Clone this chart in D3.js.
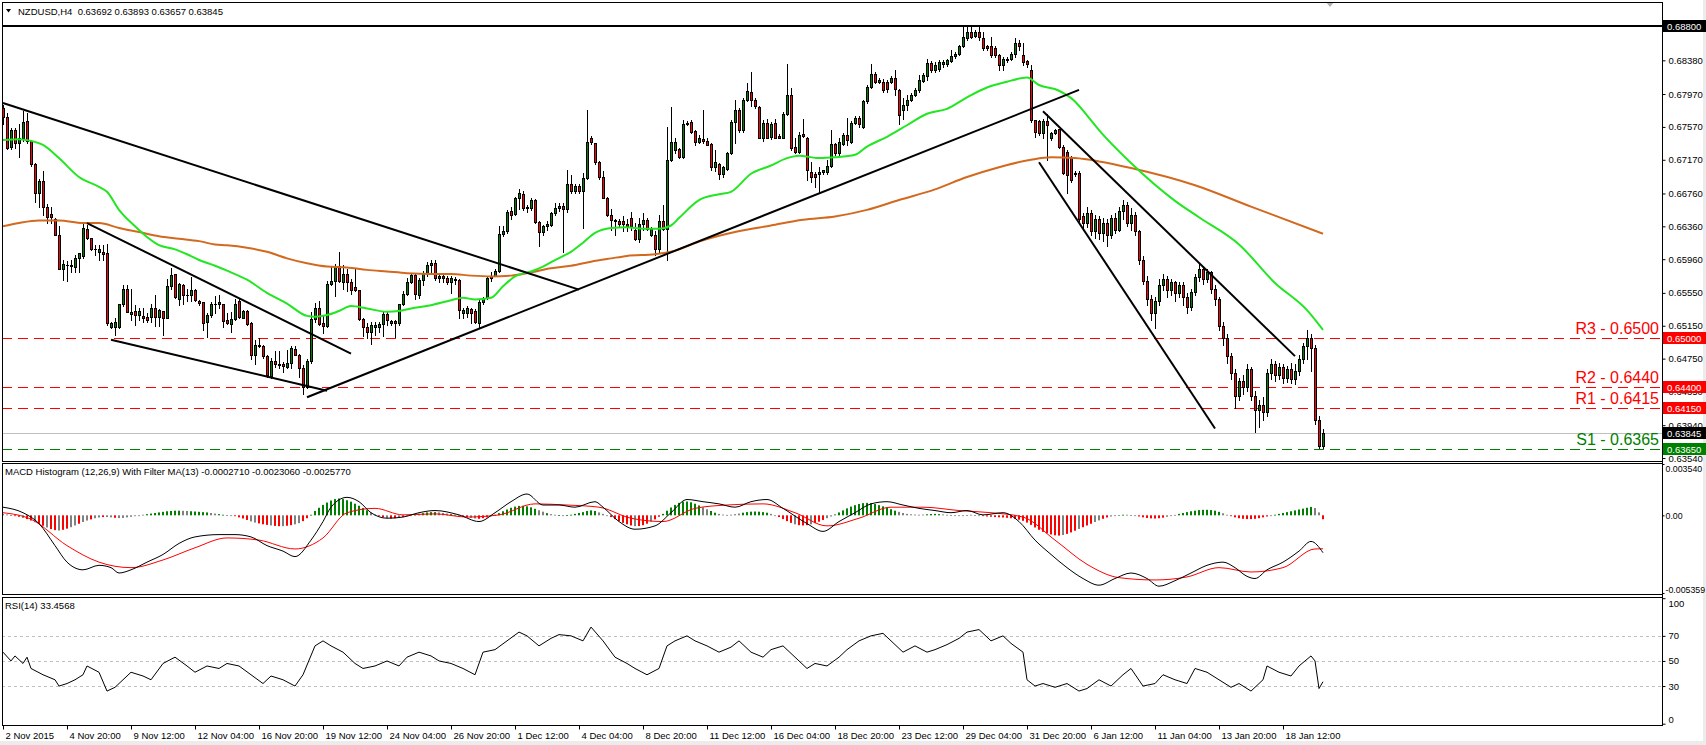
<!DOCTYPE html>
<html><head><meta charset="utf-8">
<script src="https://cdn.jsdelivr.net/npm/d3@7"></script>
<style>
html,body{margin:0;padding:0;background:#fff;overflow:hidden;}
svg{display:block;font-family:"Liberation Sans",Arial,sans-serif;}
</style></head><body>
<svg id="c" width="1706" height="745"></svg>
<script>
// ---------------- DATA ----------------
const symbolTitle = "NZDUSD,H4  0.63692 0.63893 0.63657 0.63845";
const macdTitle = "MACD Histogram (12,26,9) With Filter MA(13) -0.0002710 -0.0023060 -0.0025770";
const rsiTitle = "RSI(14) 33.4568";

const timeLabels = ["2 Nov 2015","4 Nov 20:00","9 Nov 12:00","12 Nov 04:00","16 Nov 20:00","19 Nov 12:00","24 Nov 04:00","26 Nov 20:00","1 Dec 12:00","4 Dec 04:00","8 Dec 20:00","11 Dec 12:00","16 Dec 04:00","18 Dec 20:00","23 Dec 12:00","29 Dec 04:00","31 Dec 20:00","6 Jan 12:00","11 Jan 04:00","13 Jan 20:00","18 Jan 12:00"];
const timeTickBars = [0,16,32,48,64,80,96,112,128,144,160,176,192,208,224,240,256,272,288,304,320];

const priceTicks = [0.68800,0.68380,0.67970,0.67570,0.67170,0.66760,0.66360,0.65960,0.65550,0.65150,0.64750,0.64350,0.63940,0.63540];

// H4 candles: [open, high, low, close]
const ohlc = [
[0.6780,0.6784,0.6760,0.6769],[0.6769,0.6774,0.6730,0.6731],[0.6732,0.6756,0.6730,0.6753],[0.6753,0.6756,0.6731,0.6738],[0.6738,0.6760,0.6720,0.6744],
[0.6744,0.6776,0.6740,0.6763],[0.6764,0.6774,0.6738,0.6740],[0.6740,0.6741,0.6709,0.6712],[0.6712,0.6713,0.6666,0.6677],[0.6677,0.6694,0.6660,0.6691],
[0.6691,0.6703,0.6650,0.6660],[0.6660,0.6663,0.6640,0.6647],[0.6651,0.6660,0.6640,0.6647],[0.6645,0.6646,0.6625,0.6625],[0.6625,0.6636,0.6584,0.6584],
[0.6584,0.6595,0.6571,0.6590],[0.6589,0.6594,0.6570,0.6589],[0.6588,0.6595,0.6580,0.6589],[0.6586,0.6601,0.6580,0.6598],[0.6598,0.6604,0.6581,0.6604],
[0.6600,0.6639,0.6598,0.6634],[0.6633,0.6638,0.6620,0.6622],[0.6622,0.6622,0.6607,0.6608],[0.6609,0.6613,0.6601,0.6608],[0.6605,0.6613,0.6595,0.6608],
[0.6605,0.6613,0.6595,0.6602],[0.6603,0.6614,0.6516,0.6518],[0.6514,0.6520,0.6512,0.6518],[0.6514,0.6524,0.6504,0.6520],[0.6514,0.6542,0.6512,0.6541],
[0.6541,0.6564,0.6539,0.6560],[0.6560,0.6565,0.6532,0.6532],[0.6529,0.6560,0.6522,0.6532],[0.6533,0.6540,0.6516,0.6528],[0.6528,0.6536,0.6522,0.6533],
[0.6527,0.6536,0.6520,0.6524],[0.6526,0.6531,0.6520,0.6522],[0.6526,0.6542,0.6520,0.6536],[0.6536,0.6553,0.6515,0.6526],[0.6526,0.6535,0.6515,0.6534],
[0.6533,0.6533,0.6504,0.6525],[0.6525,0.6572,0.6524,0.6563],[0.6563,0.6585,0.6560,0.6577],[0.6578,0.6578,0.6549,0.6550],[0.6548,0.6567,0.6540,0.6566],
[0.6565,0.6566,0.6542,0.6552],[0.6553,0.6560,0.6545,0.6552],[0.6552,0.6574,0.6545,0.6559],[0.6559,0.6560,0.6545,0.6546],[0.6545,0.6546,0.6540,0.6543],
[0.6544,0.6544,0.6510,0.6518],[0.6519,0.6530,0.6501,0.6528],[0.6528,0.6544,0.6526,0.6541],[0.6541,0.6551,0.6530,0.6542],[0.6542,0.6553,0.6537,0.6544],
[0.6542,0.6542,0.6514,0.6521],[0.6522,0.6530,0.6517,0.6518],[0.6517,0.6532,0.6508,0.6523],[0.6523,0.6547,0.6522,0.6541],[0.6545,0.6549,0.6525,0.6526],
[0.6525,0.6534,0.6524,0.6533],[0.6533,0.6534,0.6516,0.6517],[0.6518,0.6519,0.6474,0.6480],[0.6480,0.6498,0.6468,0.6492],[0.6492,0.6500,0.6489,0.6490],
[0.6490,0.6492,0.6476,0.6478],[0.6478,0.6480,0.6453,0.6455],[0.6454,0.6476,0.6452,0.6472],[0.6472,0.6484,0.6465,0.6469],[0.6469,0.6484,0.6463,0.6467],
[0.6469,0.6471,0.6459,0.6466],[0.6465,0.6485,0.6463,0.6470],[0.6470,0.6490,0.6463,0.6488],[0.6487,0.6490,0.6479,0.6480],[0.6480,0.6481,0.6453,0.6463],
[0.6463,0.6467,0.6432,0.6441],[0.6441,0.6474,0.6439,0.6472],[0.6472,0.6532,0.6470,0.6523],[0.6523,0.6543,0.6520,0.6536],[0.6536,0.6545,0.6516,0.6517],
[0.6518,0.6528,0.6506,0.6515],[0.6515,0.6569,0.6514,0.6566],[0.6566,0.6587,0.6565,0.6570],[0.6569,0.6590,0.6551,0.6588],[0.6588,0.6605,0.6568,0.6570],
[0.6568,0.6589,0.6560,0.6578],[0.6578,0.6584,0.6557,0.6568],[0.6568,0.6572,0.6554,0.6558],[0.6562,0.6585,0.6557,0.6558],[0.6559,0.6559,0.6522,0.6523],
[0.6523,0.6525,0.6502,0.6514],[0.6514,0.6518,0.6500,0.6507],[0.6508,0.6520,0.6493,0.6516],[0.6513,0.6520,0.6504,0.6516],[0.6514,0.6520,0.6508,0.6517],
[0.6517,0.6532,0.6502,0.6529],[0.6529,0.6532,0.6516,0.6522],[0.6518,0.6522,0.6516,0.6521],[0.6521,0.6522,0.6501,0.6518],[0.6518,0.6542,0.6516,0.6541],
[0.6541,0.6557,0.6540,0.6554],[0.6554,0.6573,0.6553,0.6568],[0.6568,0.6579,0.6567,0.6577],[0.6577,0.6578,0.6548,0.6554],[0.6553,0.6573,0.6549,0.6571],
[0.6571,0.6582,0.6565,0.6579],[0.6579,0.6593,0.6575,0.6589],[0.6589,0.6595,0.6580,0.6591],[0.6591,0.6595,0.6571,0.6573],[0.6573,0.6578,0.6568,0.6575],
[0.6575,0.6578,0.6568,0.6573],[0.6573,0.6575,0.6566,0.6568],[0.6568,0.6575,0.6555,0.6573],[0.6572,0.6574,0.6566,0.6571],[0.6571,0.6572,0.6524,0.6534],
[0.6531,0.6537,0.6525,0.6534],[0.6531,0.6539,0.6526,0.6536],[0.6535,0.6537,0.6518,0.6530],[0.6533,0.6535,0.6518,0.6519],[0.6518,0.6546,0.6514,0.6544],
[0.6544,0.6550,0.6542,0.6549],[0.6549,0.6574,0.6548,0.6573],[0.6573,0.6580,0.6570,0.6576],[0.6576,0.6584,0.6575,0.6582],[0.6582,0.6636,0.6581,0.6627],
[0.6627,0.6636,0.6624,0.6630],[0.6630,0.6656,0.6628,0.6654],[0.6655,0.6660,0.6645,0.6650],[0.6651,0.6672,0.6650,0.6670],[0.6670,0.6681,0.6657,0.6676],
[0.6675,0.6679,0.6656,0.6658],[0.6659,0.6662,0.6654,0.6658],[0.6658,0.6670,0.6656,0.6668],[0.6668,0.6669,0.6640,0.6641],[0.6641,0.6642,0.6612,0.6629],
[0.6629,0.6638,0.6625,0.6636],[0.6636,0.6643,0.6632,0.6639],[0.6638,0.6654,0.6636,0.6652],[0.6652,0.6664,0.6650,0.6658],[0.6658,0.6664,0.6655,0.6661],
[0.6661,0.6664,0.6605,0.6657],[0.6657,0.6705,0.6654,0.6687],[0.6687,0.6699,0.6677,0.6679],[0.6679,0.6688,0.6676,0.6685],[0.6685,0.6688,0.6676,0.6679],
[0.6679,0.6701,0.6634,0.6695],[0.6695,0.6778,0.6693,0.6739],[0.6743,0.6746,0.6736,0.6739],[0.6737,0.6738,0.6712,0.6714],[0.6714,0.6716,0.6694,0.6696],
[0.6696,0.6703,0.6670,0.6670],[0.6670,0.6672,0.6648,0.6650],[0.6650,0.6657,0.6632,0.6644],[0.6644,0.6645,0.6626,0.6642],[0.6643,0.6645,0.6637,0.6639],
[0.6642,0.6649,0.6630,0.6639],[0.6639,0.6645,0.6630,0.6637],[0.6646,0.6654,0.6631,0.6636],[0.6631,0.6640,0.6619,0.6621],[0.6620,0.6646,0.6617,0.6639],
[0.6639,0.6652,0.6631,0.6644],[0.6644,0.6646,0.6632,0.6633],[0.6626,0.6635,0.6624,0.6633],[0.6626,0.6630,0.6601,0.6608],[0.6608,0.6650,0.6605,0.6642],
[0.6642,0.6662,0.6631,0.6633],[0.6633,0.6757,0.6595,0.6717],[0.6717,0.6781,0.6715,0.6739],[0.6729,0.6743,0.6725,0.6739],[0.6730,0.6731,0.6719,0.6720],
[0.6720,0.6765,0.6719,0.6761],[0.6761,0.6764,0.6759,0.6762],[0.6763,0.6765,0.6749,0.6751],[0.6752,0.6753,0.6735,0.6739],[0.6739,0.6747,0.6737,0.6743],
[0.6742,0.6777,0.6737,0.6740],[0.6740,0.6743,0.6735,0.6735],[0.6736,0.6737,0.6704,0.6708],[0.6708,0.6729,0.6703,0.6714],[0.6712,0.6713,0.6694,0.6700],
[0.6700,0.6709,0.6696,0.6708],[0.6706,0.6727,0.6705,0.6725],[0.6725,0.6765,0.6724,0.6763],[0.6763,0.6790,0.6737,0.6778],[0.6778,0.6780,0.6751,0.6753],
[0.6753,0.6792,0.6751,0.6790],[0.6790,0.6810,0.6788,0.6801],[0.6799,0.6824,0.6782,0.6790],[0.6790,0.6792,0.6780,0.6782],[0.6781,0.6782,0.6743,0.6744],
[0.6744,0.6765,0.6740,0.6762],[0.6762,0.6767,0.6743,0.6744],[0.6745,0.6763,0.6742,0.6761],[0.6762,0.6767,0.6743,0.6744],[0.6746,0.6748,0.6743,0.6744],
[0.6744,0.6775,0.6743,0.6773],[0.6773,0.6834,0.6771,0.6796],[0.6796,0.6804,0.6729,0.6731],[0.6732,0.6743,0.6725,0.6727],[0.6727,0.6751,0.6725,0.6747],
[0.6748,0.6767,0.6745,0.6746],[0.6744,0.6745,0.6692,0.6704],[0.6702,0.6714,0.6690,0.6696],[0.6700,0.6702,0.6684,0.6696],[0.6700,0.6708,0.6678,0.6702],
[0.6702,0.6705,0.6700,0.6704],[0.6702,0.6717,0.6700,0.6709],[0.6709,0.6753,0.6708,0.6736],[0.6736,0.6737,0.6723,0.6725],[0.6725,0.6743,0.6723,0.6739],
[0.6736,0.6749,0.6735,0.6747],[0.6747,0.6768,0.6735,0.6741],[0.6739,0.6764,0.6737,0.6762],[0.6762,0.6770,0.6760,0.6768],[0.6768,0.6770,0.6757,0.6760],
[0.6757,0.6790,0.6756,0.6788],[0.6788,0.6808,0.6786,0.6805],[0.6805,0.6834,0.6804,0.6821],[0.6821,0.6824,0.6810,0.6812],[0.6812,0.6817,0.6810,0.6814],
[0.6812,0.6815,0.6800,0.6802],[0.6812,0.6814,0.6800,0.6803],[0.6812,0.6819,0.6810,0.6817],[0.6816,0.6826,0.6796,0.6803],[0.6802,0.6803,0.6760,0.6771],
[0.6777,0.6792,0.6767,0.6784],[0.6784,0.6796,0.6777,0.6790],[0.6790,0.6798,0.6788,0.6796],[0.6796,0.6804,0.6794,0.6802],[0.6802,0.6820,0.6800,0.6814],
[0.6813,0.6822,0.6812,0.6820],[0.6819,0.6840,0.6814,0.6835],[0.6835,0.6837,0.6824,0.6826],[0.6826,0.6836,0.6824,0.6832],[0.6827,0.6838,0.6825,0.6836],
[0.6833,0.6838,0.6830,0.6836],[0.6833,0.6840,0.6831,0.6838],[0.6837,0.6851,0.6836,0.6843],[0.6843,0.6848,0.6841,0.6846],[0.6846,0.6857,0.6845,0.6855],
[0.6855,0.6879,0.6854,0.6866],[0.6865,0.6879,0.6863,0.6873],[0.6873,0.6879,0.6865,0.6867],[0.6868,0.6875,0.6866,0.6873],[0.6872,0.6878,0.6863,0.6867],
[0.6865,0.6872,0.6851,0.6853],[0.6855,0.6857,0.6851,0.6853],[0.6855,0.6867,0.6842,0.6844],[0.6853,0.6855,0.6842,0.6844],[0.6844,0.6846,0.6826,0.6832],
[0.6832,0.6842,0.6826,0.6840],[0.6838,0.6842,0.6836,0.6840],[0.6840,0.6848,0.6838,0.6846],[0.6846,0.6865,0.6842,0.6859],[0.6859,0.6863,0.6850,0.6855],
[0.6844,0.6859,0.6832,0.6836],[0.6837,0.6838,0.6830,0.6834],[0.6826,0.6832,0.6763,0.6765],[0.6765,0.6766,0.6745,0.6751],[0.6764,0.6765,0.6747,0.6749],
[0.6749,0.6767,0.6743,0.6764],[0.6764,0.6773,0.6717,0.6759],[0.6743,0.6751,0.6741,0.6750],[0.6750,0.6755,0.6748,0.6753],[0.6754,0.6755,0.6731,0.6733],
[0.6733,0.6735,0.6700,0.6701],[0.6727,0.6729,0.6676,0.6698],[0.6719,0.6721,0.6690,0.6692],[0.6701,0.6703,0.6697,0.6700],[0.6701,0.6703,0.6643,0.6645],
[0.6648,0.6652,0.6632,0.6640],[0.6640,0.6660,0.6635,0.6652],[0.6652,0.6656,0.6626,0.6630],[0.6630,0.6650,0.6622,0.6645],[0.6645,0.6648,0.6620,0.6628],
[0.6628,0.6646,0.6618,0.6640],[0.6640,0.6645,0.6612,0.6625],[0.6625,0.6650,0.6622,0.6646],[0.6646,0.6652,0.6628,0.6632],[0.6632,0.6660,0.6630,0.6655],
[0.6655,0.6668,0.6645,0.6662],[0.6662,0.6665,0.6636,0.6640],[0.6640,0.6658,0.6632,0.6650],[0.6650,0.6654,0.6625,0.6630],[0.6630,0.6632,0.6590,0.6595],
[0.6595,0.6600,0.6566,0.6570],[0.6570,0.6575,0.6540,0.6548],[0.6548,0.6552,0.6522,0.6530],[0.6530,0.6550,0.6512,0.6545],[0.6545,0.6572,0.6540,0.6565],
[0.6565,0.6578,0.6558,0.6572],[0.6572,0.6576,0.6550,0.6558],[0.6558,0.6572,0.6552,0.6568],[0.6568,0.6570,0.6545,0.6555],[0.6555,0.6568,0.6550,0.6565],
[0.6565,0.6568,0.6540,0.6550],[0.6550,0.6555,0.6530,0.6538],[0.6538,0.6560,0.6534,0.6556],[0.6556,0.6578,0.6552,0.6574],[0.6574,0.6591,0.6570,0.6584],
[0.6584,0.6588,0.6566,0.6572],[0.6572,0.6584,0.6568,0.6580],[0.6580,0.6582,0.6555,0.6560],[0.6560,0.6565,0.6540,0.6548],[0.6548,0.6550,0.6510,0.6515],
[0.6515,0.6520,0.6492,0.6500],[0.6500,0.6505,0.6470,0.6478],[0.6478,0.6482,0.6450,0.6458],[0.6458,0.6462,0.6415,0.6430],[0.6430,0.6452,0.6425,0.6448],
[0.6448,0.6455,0.6432,0.6440],[0.6440,0.6468,0.6436,0.6462],[0.6462,0.6465,0.6425,0.6430],[0.6430,0.6435,0.6386,0.6412],[0.6412,0.6425,0.6392,0.6418],
[0.6418,0.6428,0.6400,0.6410],[0.6410,0.6462,0.6405,0.6458],[0.6458,0.6474,0.6450,0.6468],[0.6468,0.6472,0.6448,0.6455],[0.6455,0.6470,0.6450,0.6465],
[0.6465,0.6468,0.6445,0.6452],[0.6452,0.6466,0.6446,0.6462],[0.6462,0.6470,0.6445,0.6450],[0.6450,0.6468,0.6444,0.6460],[0.6460,0.6480,0.6455,0.6475],
[0.6475,0.6494,0.6470,0.6490],[0.6490,0.6510,0.6475,0.6500],[0.6500,0.6505,0.6460,0.6488],[0.6488,0.6492,0.6395,0.6400],[0.6400,0.6405,0.6366,0.6369],
[0.63692,0.63893,0.63657,0.63845]
];

// moving averages (green = fast, orange = slow), read at sample bars
const maFastBars = [0,4,7,10,14,19,24,26,29,33,36,39,43,46,49,53,56,61,66,71,76,78,81,84,87,91,96,99,102,107,112,115,118,122,125,128,132,135,138,142,145,148,152,156,160,164,167,169,174,179,182,187,192,196,199,204,208,213,216,221,226,231,236,241,246,251,256,259,264,268,271,274,282,293,299,309,318,326,330];
const maFast = [0.6741,0.6742,0.6740,0.6735,0.6719,0.6696,0.6684,0.6678,0.6656,0.6636,0.6623,0.6613,0.6608,0.6602,0.6595,0.6588,0.6582,0.6571,0.6555,0.6542,0.6527,0.6526,0.6528,0.6533,0.6539,0.6536,0.6532,0.6533,0.6536,0.6540,0.6546,0.6549,0.6547,0.6549,0.6563,0.6575,0.6581,0.6587,0.6595,0.6605,0.6616,0.6628,0.6634,0.6635,0.6633,0.6633,0.6637,0.6646,0.6668,0.6675,0.6678,0.6700,0.6710,0.6719,0.6722,0.6719,0.6720,0.6723,0.6733,0.6745,0.6759,0.6773,0.6779,0.6793,0.6805,0.6812,0.6817,0.6808,0.6801,0.6788,0.6771,0.6753,0.6713,0.6667,0.6647,0.6614,0.6567,0.6534,0.6510];
const maSlowBars = [0,4,9,14,20,24,29,34,39,44,49,53,56,61,66,71,76,81,86,91,96,101,107,112,117,122,127,132,137,142,147,152,156,163,167,175,183,192,200,208,216,224,233,241,249,257,262,268,274,282,298,312,330];
const maSlow = [0.6636,0.6640,0.6643,0.6643,0.6640,0.6640,0.6634,0.6629,0.6624,0.6621,0.6618,0.6614,0.6613,0.6610,0.6605,0.6597,0.6591,0.6587,0.6586,0.6583,0.6581,0.6579,0.6578,0.6578,0.6576,0.6575,0.6576,0.6580,0.6585,0.6588,0.6593,0.6597,0.6600,0.6602,0.6605,0.6619,0.6629,0.6637,0.6644,0.6648,0.6656,0.6668,0.6681,0.6696,0.6708,0.6717,0.6720,0.6719,0.6715,0.6707,0.6686,0.6660,0.6627];

// support / resistance levels
const levelNames = ["R3","R2","R1","S1"];
const levelPrices = [0.6500,0.6440,0.6415,0.6365];
const levelKinds = ["res","res","res","sup"];
const topLinePrice = 0.6880;
const bidPrice = 0.63845;

// drawn trend lines: [barA, priceA, barB, priceB]
const trendLines = [
  [0,0.6786,144,0.6559],
  [21,0.6640,87,0.6481],
  [27,0.6498,81,0.6436],
  [76,0.6428,269,0.6802],
  [260,0.6776,323,0.6478],
  [259,0.6714,303,0.6390]
];

// MACD lines (sampled) and histogram (x1e-5 per bar)
const macdBars = [0,5,9,13,16,20,24,27,29,32,36,40,44,48,54,58,62,66,70,73,77,80,82,86,89,92,96,100,104,108,114,119,123,127,131,135,139,143,148,150,154,158,163,167,171,175,179,183,187,191,195,201,205,209,213,217,221,225,229,233,237,241,245,250,254,258,262,266,270,274,278,282,286,289,293,297,301,305,308,311,313,316,320,324,327,330];
const macdLine = [0.00056,0.00018,-0.00057,-0.00209,-0.00323,-0.00376,-0.00345,-0.00361,-0.00398,-0.00376,-0.00323,-0.00270,-0.00194,-0.00149,-0.00133,-0.00133,-0.00149,-0.00209,-0.00247,-0.00285,-0.00171,-0.00043,0.00056,0.00124,0.00094,0.00018,-0.00020,-0.00012,0.00018,0.00033,0.00003,-0.00043,0.00018,0.00094,0.00147,0.00071,0.00071,0.00056,0.00094,0.00056,-0.00043,-0.00096,-0.00073,0.00018,0.00109,0.00094,0.00079,0.00056,0.00094,0.00109,0.00048,-0.00057,-0.00111,-0.00043,0.00018,0.00079,0.00094,0.00071,0.00048,0.00033,0.00018,0.00033,0.00003,0.00018,-0.00043,-0.00171,-0.00270,-0.00361,-0.00436,-0.00482,-0.00436,-0.00398,-0.00436,-0.00489,-0.00451,-0.00398,-0.00345,-0.00323,-0.00361,-0.00421,-0.00436,-0.00376,-0.00323,-0.00247,-0.00180,-0.00258];
const signalBars = [0,7,16,24,32,40,48,56,64,73,80,86,93,100,108,116,124,133,141,149,157,165,173,181,190,198,206,214,222,230,239,247,255,263,271,279,288,296,304,312,320,328,330];
const signalLine = [0.00018,-0.00027,-0.00209,-0.00323,-0.00361,-0.00308,-0.00224,-0.00156,-0.00171,-0.00232,-0.00156,0.00018,0.00048,0.00003,0.00010,-0.00012,0.00003,0.00079,0.00071,0.00056,-0.00020,-0.00043,0.00048,0.00071,0.00079,0.00018,-0.00073,-0.00020,0.00056,0.00056,0.00033,0.00018,-0.00012,-0.00171,-0.00338,-0.00430,-0.00446,-0.00425,-0.00361,-0.00391,-0.00361,-0.00232,-0.00231];
const histE5 = [
10,6,2,-3,-10,-18,-26,-36,-48,-60,
-72,-84,-95,-102,-105,-100,-92,-82,-70,-58,
-46,-36,-28,-20,-15,-12,-12,-14,-17,-19,
-18,-14,-10,-6,-1,4,8,12,16,20,
24,28,30,32,32,31,30,28,26,24,
22,20,16,12,8,4,2,0,-6,-14,
-22,-32,-42,-50,-56,-62,-66,-70,-73,-75,
-75,-72,-68,-62,-54,-40,-20,4,30,52,
72,88,102,112,116,112,104,94,80,66,
50,35,20,6,-6,-14,-19,-22,-20,-16,
-11,-6,-2,4,10,15,20,22,22,20,
16,12,8,4,0,-6,-12,-18,-22,-24,
-20,-14,-6,4,15,28,40,52,60,65,
66,62,55,45,35,25,15,8,4,2,
0,2,4,10,16,22,30,34,30,20,
10,0,-12,-26,-40,-52,-62,-70,-75,-74,
-68,-58,-44,-28,-10,10,32,54,72,86,
94,95,90,80,68,55,42,30,18,10,
5,3,4,8,12,18,22,25,26,25,
22,18,10,0,-12,-26,-40,-52,-62,-68,
-70,-68,-62,-54,-44,-32,-20,-8,6,20,
34,48,60,70,78,84,86,84,78,70,
62,52,42,32,24,16,10,7,5,4,
5,7,9,10,8,6,4,2,0,-2,
0,2,4,2,0,-4,-8,-10,-12,-14,
-15,-17,-20,-24,-30,-38,-50,-66,-84,-100,
-114,-124,-132,-138,-140,-136,-128,-118,-106,-94,
-82,-70,-58,-46,-35,-24,-15,-8,-3,1,
4,4,2,-2,-8,-14,-18,-21,-22,-20,
-16,-10,-4,3,10,16,22,28,32,36,
38,38,36,32,24,14,4,-6,-14,-20,
-24,-26,-26,-24,-20,-14,-8,-2,4,10,
16,22,28,34,40,46,52,58,50,20,
-27];
// histogram colour per bar: g = up, r = down, n = filtered (grey)
const histColorCodes =
"nnnrrnrrnr"+"rnrrnrrnnr"+"nnrnnrnnrn"+"nnnnnngggg"+"gggggnnggg"+"ggnnggnnrr"+"rrnnrrrnrr"+"nrrnnrrggg"+"gggggggggg"+"ggnnrrnrrn"+
"rnnggggggn"+"nnggnrrnnr"+"rrnggggggg"+"ggggnngnng"+"nggggggggn"+"nnrrrrrrnr"+"rrnrrggggg"+"gggggnnggn"+"nnnnnggggg"+"ggnnrrrrnr"+
"rrnrrrnngg"+"gggggggggg"+"ggggnnnnnn"+"nggggnnnnn"+"nnnnnrrrrr"+"rrrrrrrrrr"+"rrrrrnrrrn"+"rrrnnrrnnn"+"gnnnrrrrrr"+"rnnngggggg"+
"gggggnnrrr"+"rrrrrrrngg"+"ggggggggnn"+"r";

// RSI(14) sampled
const rsiBars = [0,2,3,5,6,7,10,13,14,16,18,20,21,24,26,28,31,32,35,37,40,43,46,48,51,54,56,59,62,65,67,70,73,75,78,80,82,85,88,90,93,96,99,101,104,107,109,112,115,118,120,123,126,129,131,134,137,139,142,145,147,150,153,156,158,161,164,166,168,171,173,176,179,182,184,187,190,192,195,198,201,203,206,209,211,214,217,220,222,225,228,231,233,236,239,241,244,247,250,252,255,256,258,260,263,266,269,271,274,277,280,282,285,288,290,293,296,298,301,304,307,309,312,315,316,319,322,324,327,328,329,330];
const rsiVals = [57,50,54,48,53,44,39,35,30,32,35,39,46,41,26,29,38,41,38,35,48,53,46,41,46,44,48,46,39,32,38,35,30,39,62,66,62,57,48,44,46,50,46,53,57,54,50,48,44,39,57,59,66,73,70,62,68,71,70,66,77,66,53,48,44,39,44,62,66,70,66,62,57,61,66,57,53,59,62,53,44,48,46,53,59,66,70,72,66,57,62,57,59,63,68,73,75,66,70,64,57,35,30,32,29,32,26,28,35,30,39,44,30,32,39,35,32,44,41,35,29,32,26,35,46,41,38,46,54,50,28,33.46];
const rsiLevels = [70,50,30];
const rsiTicks = [100,70,50,30,0];
const macdTicks = [0.003540,0,-0.005359];

// ---------------- DRAW ----------------
const svg = d3.select("#c");
const FONT = "'Liberation Sans', Arial, sans-serif";
const L = 2, R = 1662;
const P = {main:[2,461], macd:[463,594], rsi:[597,725]};
const bull = "#008000", bear = "#ff0000";
const N = ohlc.length;

const x = d3.scaleLinear().domain([0, N-1]).range([3, 3 + 4*(N-1)]);
const yP = d3.scaleLinear().domain([0.63504, 0.69090]).range([461, 2]);
const yM = d3.scaleLinear().domain([-0.005359, 0.003540]).range([593, 464]);
const yR = d3.scaleLinear().domain([0, 100]).range([723.7, 598.2]);

const defs = svg.append("defs");
Object.entries(P).forEach(([k,[t,b]])=>{
  defs.append("clipPath").attr("id","clip-"+k).append("rect")
    .attr("x",L).attr("y",t).attr("width",R-L).attr("height",b-t);
});

// bottom/right light strips
svg.append("rect").attr("x",0).attr("y",741).attr("width",1706).attr("height",4).attr("fill","#ececec");
svg.append("rect").attr("x",1703).attr("y",0).attr("width",3).attr("height",745).attr("fill","#ececec");

// ---- main panel ----
const gMain = svg.append("g").attr("clip-path","url(#clip-main)");

// bid line
gMain.append("line").attr("x1",L).attr("x2",R)
  .attr("y1",Math.round(yP(bidPrice))+0.5).attr("y2",Math.round(yP(bidPrice))+0.5)
  .attr("stroke","#c0c0c0").attr("stroke-width",1);

// level lines
const lvl = levelPrices.map((p,i)=>({p, name:levelNames[i], kind:levelKinds[i]}));
gMain.selectAll("line.lvl").data(lvl).join("line").attr("class","lvl")
  .attr("x1",L).attr("x2",R)
  .attr("y1",d=>Math.round(yP(d.p))+0.5).attr("y2",d=>Math.round(yP(d.p))+0.5)
  .attr("stroke",d=>d.kind==="res"?"#ff0000":"#008000")
  .attr("stroke-width",1).attr("stroke-dasharray","10,6");

// candles
const rnd = v=>Math.round(v);
const cg = gMain.append("g");
const cand = cg.selectAll("g").data(ohlc).join("g");
cand.append("rect")
  .attr("x",(d,i)=>rnd(x(i)))
  .attr("y",d=>rnd(yP(d[1])))
  .attr("width",1)
  .attr("height",d=>Math.max(1, rnd(yP(d[2]))-rnd(yP(d[1]))+1))
  .attr("fill","#000");
cand.append("rect")
  .attr("x",(d,i)=>rnd(x(i))-1)
  .attr("y",d=>rnd(yP(Math.max(d[0],d[3]))))
  .attr("width",3)
  .attr("height",d=>Math.max(1, rnd(yP(Math.min(d[0],d[3])))-rnd(yP(Math.max(d[0],d[3])))+1))
  .attr("fill","#000");
cand.append("rect")
  .attr("x",(d,i)=>rnd(x(i)))
  .attr("y",d=>rnd(yP(Math.max(d[0],d[3])))+1)
  .attr("width",1)
  .attr("height",d=>Math.max(0, rnd(yP(Math.min(d[0],d[3])))-rnd(yP(Math.max(d[0],d[3])))-1))
  .attr("fill",d=>d[3]>=d[0]?bull:bear);

// moving averages
const maLine = d3.line().x(d=>x(d[0])).y(d=>yP(d[1])).curve(d3.curveMonotoneX);
gMain.append("path").datum(maSlowBars.map((b,i)=>[b,maSlow[i]]))
  .attr("d",maLine).attr("fill","none").attr("stroke","#d2691e").attr("stroke-width",2);
gMain.append("path").datum(maFastBars.map((b,i)=>[b,maFast[i]]))
  .attr("d",maLine).attr("fill","none").attr("stroke","#22e622").attr("stroke-width",2);

// trend lines
gMain.selectAll("line.tl").data(trendLines).join("line").attr("class","tl")
  .attr("x1",d=>x(d[0])).attr("y1",d=>yP(d[1]))
  .attr("x2",d=>x(d[2])).attr("y2",d=>yP(d[3]))
  .attr("stroke","#000").attr("stroke-width",2);
// top horizontal line
gMain.append("line").attr("x1",L).attr("x2",R)
  .attr("y1",rnd(yP(topLinePrice))).attr("y2",rnd(yP(topLinePrice)))
  .attr("stroke","#000").attr("stroke-width",2);

// level labels
svg.selectAll("text.lvlt").data(lvl).join("text").attr("class","lvlt")
  .attr("x",1659).attr("y",d=>rnd(yP(d.p))-4)
  .attr("text-anchor","end").attr("font-family",FONT).attr("font-size",16)
  .attr("fill",d=>d.kind==="res"?"#ff0000":"#008000")
  .text(d=>d.name+" - "+d.p.toFixed(4));

// title
svg.append("path").attr("d","M6,9 L11,9 L8.5,12.5 Z").attr("fill","#000");
svg.append("text").attr("x",18).attr("y",15).attr("font-family",FONT).attr("font-size",9.5)
  .attr("fill","#000").attr("xml:space","preserve").style("white-space","pre").text(symbolTitle);
// chart shift marker
svg.append("path").attr("d","M1326,2 L1334,2 L1330,7 Z").attr("fill","#b0b0b0");

// ---- MACD panel ----
const gMacd = svg.append("g").attr("clip-path","url(#clip-macd)");
const histColorMap = {g:"#008000", r:"#ff0000", n:"#808080"};
gMacd.selectAll("rect").data(histE5).join("rect")
  .attr("x",(d,i)=>rnd(x(i))-1)
  .attr("y",d=>Math.min(yM(0), yM(d*1e-5)))
  .attr("width",2)
  .attr("height",d=>Math.max(0.8, Math.abs(yM(d*1e-5)-yM(0))))
  .attr("fill",(d,i)=>histColorMap[histColorCodes[i]] || (d>=0?"#008000":"#ff0000"));
const mLine = d3.line().x(d=>x(d[0])).y(d=>yM(d[1])).curve(d3.curveMonotoneX);
gMacd.append("path").datum(signalBars.map((b,i)=>[b,signalLine[i]]))
  .attr("d",mLine).attr("fill","none").attr("stroke","#ff0000").attr("stroke-width",1);
gMacd.append("path").datum(macdBars.map((b,i)=>[b,macdLine[i]]))
  .attr("d",mLine).attr("fill","none").attr("stroke","#000").attr("stroke-width",1);
svg.append("text").attr("x",5).attr("y",475).attr("font-family",FONT).attr("font-size",9.5)
  .attr("fill","#000").text(macdTitle);

// ---- RSI panel ----
const gRsi = svg.append("g").attr("clip-path","url(#clip-rsi)");
gRsi.selectAll("line").data(rsiLevels).join("line")
  .attr("x1",L).attr("x2",R)
  .attr("y1",d=>rnd(yR(d))+0.5).attr("y2",d=>rnd(yR(d))+0.5)
  .attr("stroke","#c0c0c0").attr("stroke-dasharray","3,3");
gRsi.append("path").datum(rsiBars.map((b,i)=>[b,rsiVals[i]]))
  .attr("d",d3.line().x(d=>x(d[0])).y(d=>yR(d[1])))
  .attr("fill","none").attr("stroke","#000").attr("stroke-width",1);
svg.append("text").attr("x",5).attr("y",609).attr("font-family",FONT).attr("font-size",9.5)
  .attr("fill","#000").text(rsiTitle);

// ---- frames ----
const fr = svg.append("g").attr("fill","none").attr("stroke","#000").attr("shape-rendering","crispEdges");
Object.values(P).forEach(([t,b])=>{
  fr.append("rect").attr("x",L+0.5).attr("y",t+0.5).attr("width",R-L).attr("height",b-t);
});

// ---- axes ----
function styleAxis(g){
  g.select(".domain").remove();
  g.attr("font-family",FONT).attr("font-size",9.5);
  g.selectAll(".tick line").attr("stroke","#000");
  g.selectAll(".tick text").attr("fill","#000");
}
// price axis
svg.append("g").attr("transform","translate(1662.5,0)")
  .call(d3.axisRight(yP).tickValues(priceTicks).tickSize(3).tickPadding(3).tickFormat(d3.format(".5f")))
  .call(styleAxis);
// price boxes
const boxes = [
  {p:topLinePrice, fill:"#000"},
  {p:levelPrices[0], fill:"#ff0000"},
  {p:levelPrices[1], fill:"#ff0000"},
  {p:levelPrices[2], fill:"#ff0000"},
  {p:bidPrice, fill:"#000"},
  {p:levelPrices[3], fill:"#008000"}
];
const bg = svg.append("g");
bg.selectAll("rect").data(boxes).join("rect")
  .attr("x",1663).attr("y",d=>rnd(yP(d.p))-6).attr("width",43).attr("height",12).attr("fill",d=>d.fill);
bg.selectAll("text").data(boxes).join("text")
  .attr("x",1667).attr("y",d=>rnd(yP(d.p))+3.5)
  .attr("font-family",FONT).attr("font-size",9.5).attr("fill","#fff")
  .text(d=>d3.format(".5f")(d.p));

// MACD axis
const macdFmt = d=> d===0 ? "0.00" : d.toFixed(6);
svg.append("g").attr("transform","translate(1662.5,0)")
  .call(d3.axisRight(yM).tickValues(macdTicks).tickSize(2).tickPadding(1).tickFormat(macdFmt))
  .call(styleAxis)
  .attr("font-size",8.8)
  .call(g=>g.selectAll(".tick text").attr("dy",(d)=> d>0 ? "0.9em" : (d<0 ? "-0.1em" : "0.32em")));
// RSI axis
svg.append("g").attr("transform","translate(1662.5,0)")
  .call(d3.axisRight(yR).tickValues(rsiTicks).tickSize(3).tickPadding(3).tickFormat(d3.format("d")))
  .call(styleAxis)
  .call(g=>g.selectAll(".tick text").attr("dy",(d)=> d===100 ? "0.85em" : (d===0 ? "-0.15em" : "0.32em")));

// time axis
svg.append("g").attr("transform","translate(0,725.5)")
  .call(d3.axisBottom(x).tickValues(timeTickBars).tickSize(4).tickFormat((d,i)=>timeLabels[i]))
  .call(styleAxis)
  .call(g=>g.selectAll(".tick text").attr("text-anchor","start").attr("x",2).attr("y",13).attr("dy",0));

// right axis line
svg.append("line").attr("x1",1662.5).attr("x2",1662.5).attr("y1",2).attr("y2",725)
  .attr("stroke","#000").attr("shape-rendering","crispEdges");
</script>
</body></html>
